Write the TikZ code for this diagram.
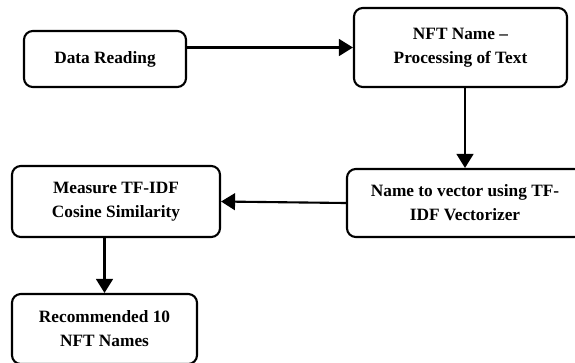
\documentclass[tikz,border=0pt]{standalone}
\usepackage{fontspec}
\setmainfont{Liberation Serif}
\usetikzlibrary{arrows.meta}

\tikzset{
    box/.style={draw, line width=1.5pt, rounded corners=0.22cm, align=center,
        font=\bfseries\fontsize{12.3}{17}\selectfont},
    flow/.style={line width=1.5pt, -{Triangle[length=0.35cm, width=0.42cm]}}
}

\begin{document}
\begin{tikzpicture}
        \useasboundingbox (0, 0) rectangle (14.375, -9.05);

        \node[box, minimum width=4.05cm, minimum height=1.4cm] (read) at (2.625, -1.475) {Data Reading};
        \node[box, minimum width=5.325cm, minimum height=1.975cm] (proc) at (11.5125, -1.1875) {NFT Name --\\Processing of Text};
        \node[box, minimum width=5.9cm, minimum height=1.7cm] (vec) at (11.625, -5.075) {Name to vector using TF-\\IDF Vectorizer};
        \node[box, minimum width=5.2cm, minimum height=1.775cm] (sim) at (2.9, -5.0375) {Measure TF-IDF\\Cosine Similarity};
        \node[box, minimum width=4.625cm, minimum height=1.75cm] (rec) at (2.6125, -8.225) {Recommended 10\\NFT Names};

        \draw[flow] (read.east |- proc.west) -- (proc.west);
        \draw[flow] (proc.south -| vec.north) -- (vec.north);
        \draw[flow] (vec.west) -- (sim.east);
        \draw[flow] (sim.south -| rec.north) -- (rec.north);
    \end{tikzpicture}
\end{document}
